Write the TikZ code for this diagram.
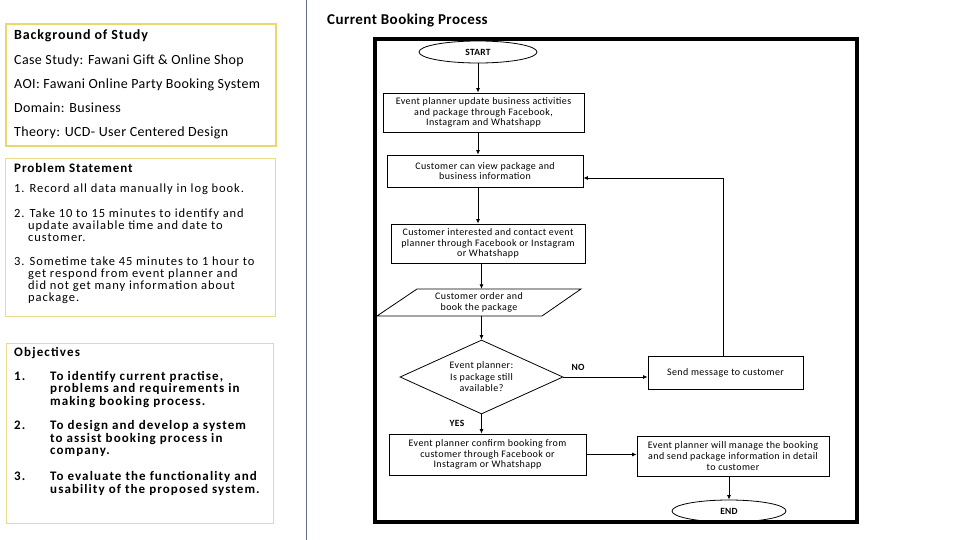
\documentclass[tikz,border=0pt]{standalone}
\usepackage{fontspec}
\setmainfont{Carlito}
\usetikzlibrary{shapes.geometric, arrows.meta}
\definecolor{ybord}{RGB}{236,214,110}
\definecolor{ythin}{RGB}{232,220,140}
\definecolor{divc}{RGB}{96,112,138}
\newcommand{\ls}[1]{\addfontfeature{LetterSpace=#1}}
\begin{document}
\begin{tikzpicture}[x=1pt,y=-1pt,
  hd/.style={anchor=base west, inner sep=0, font=\fontsize{14}{16}\selectfont\bfseries\ls{6}},
  bt/.style={anchor=base west, inner sep=0, font=\fontsize{14}{16}\selectfont\ls{2.7}},
  ph/.style={anchor=base west, inner sep=0, font=\fontsize{13}{15}\selectfont\bfseries\ls{7}},
  pt/.style={anchor=base west, inner sep=0, font=\fontsize{12.5}{14}\selectfont\ls{7.5}},
  oh/.style={anchor=base west, inner sep=0, font=\fontsize{13}{15}\selectfont\bfseries\ls{9}},
  ot/.style={anchor=base west, inner sep=0, font=\fontsize{13}{15}\selectfont\bfseries\ls{8.4}},
  fbox/.style={draw=black, line width=0.8pt, align=center, inner sep=0, font=\fontsize{10}{10.8}\selectfont\ls{4}},
  term/.style={ellipse, draw=black, line width=0.8pt, inner sep=0, font=\fontsize{9.5}{10.5}\selectfont\bfseries\ls{3}},
  lab/.style={inner sep=0, font=\fontsize{9.5}{10.5}\selectfont\bfseries\ls{3}},
  arr/.style={-{Latex[length=4.5pt,width=4pt]}, line width=0.8pt}
]
\useasboundingbox[fill=white] (0,0) rectangle (960,540);

% divider
\draw[divc, line width=1.2pt] (306.5,0) -- (306.5,540);

% Background of Study
\draw[ybord, line width=2.5pt] (6,24) rectangle (276,146);
\node[hd] (bgh) at (14,40) {Background of Study};
\node[bt] (bg1) at (14,64.5) {Case Study: Fawani Gift \& Online Shop};
\node[bt] (bg2) at (14,89) {AOI: Fawani Online Party Booking System};
\node[bt] (bg3) at (14,112.5) {Domain: Business};
\node[bt] (bg4) at (14,137) {Theory: UCD- User Centered Design};

% Problem Statement
\draw[ythin, line width=1pt] (5,159) rectangle (275,316);
\node[ph] (psh) at (14,172) {Problem Statement};
\node[pt] (ps1) at (14,192) {1. Record all data manually in log book.};
\node[pt] (ps2) at (14,217) {2. Take 10 to 15 minutes to identify and};
\node[pt] (ps2b) at (28,229) {update available time and date to};
\node[pt] (ps2c) at (28,241) {customer.};
\node[pt] (ps3) at (14,265) {3. Sometime take 45 minutes to 1 hour to};
\node[pt] (ps3b) at (28,277.5) {get respond from event planner and};
\node[pt] (ps3c) at (28,289.5) {did not get many information about};
\node[pt] (ps3d) at (28,301.5) {package.};

% Objectives
\draw[ythin, line width=1pt] (6,343) rectangle (273,523);
\node[oh] (obh) at (14,356) {Objectives};
\node[ot] (o1n) at (14,380) {1.};
\node[ot] (o1a) at (50,380) {To identify current practise,};
\node[ot] (o1b) at (50,392.5) {problems and requirements in};
\node[ot] (o1c) at (50,405) {making booking process.};
\node[ot] (o2n) at (14,429.5) {2.};
\node[ot] (o2a) at (50,429.5) {To design and develop a system};
\node[ot] (o2b) at (50,442) {to assist booking process in};
\node[ot] (o2c) at (50,454.5) {company.};
\node[ot] (o3n) at (14,480) {3.};
\node[ot] (o3a) at (50,480) {To evaluate the functionality and};
\node[ot] (o3b) at (50,493) {usability of the proposed system.};

% Title
\node[anchor=base west, inner sep=0, font=\fontsize{15}{17}\selectfont\bfseries\ls{3}] (title) at (327,25) {Current Booking Process};

% Flowchart
\node[term, minimum width=118pt, minimum height=22pt] (start) at (478,52) {START};
\node[fbox, minimum width=201pt, minimum height=39pt] (b1) at (483.5,112.5) {Event planner update business activities\\and package through Facebook,\\Instagram and Whatshapp};
\node[fbox, minimum width=196pt, minimum height=32pt] (b2) at (485,171) {Customer can view package and\\business information};
\node[fbox, minimum width=194pt, minimum height=39pt] (b3) at (488,243.5) {Customer interested and contact event\\planner through Facebook or Instagram\\or Whatshapp};
\draw[line width=0.8pt] (417,289) -- (581,289) -- (542,316) -- (377,316) -- cycle;
\node[align=center, inner sep=0, minimum height=27pt, font=\fontsize{10}{11}\selectfont\ls{4}] (ord) at (479,302.5) {Customer order and\\book the package};
\node[diamond, draw=black, line width=0.8pt, aspect=2.2, minimum width=163pt, minimum height=74pt, inner sep=0, align=center, font=\fontsize{10}{11.5}\selectfont\ls{4}] (dia) at (481.5,377) {Event planner:\\Is package still\\available?};
\node[fbox, minimum width=155pt, minimum height=33pt] (send) at (725.5,372.5) {Send message to customer};
\node[fbox, minimum width=197pt, minimum height=41pt] (conf) at (487.5,454.5) {Event planner confirm booking from\\customer through Facebook or\\Instagram or Whatshapp};
\node[fbox, minimum width=192pt, minimum height=40pt] (man) at (733,456) {Event planner will manage the booking\\and send package information in detail\\to customer};
\node[term, minimum width=114pt, minimum height=22pt] (end) at (729,511) {END};
\node[lab] (no) at (578,367) {NO};
\node[lab] (yes) at (457,423) {YES};

\draw[arr] (start.south) -- (start.south |- b1.north);
\draw[arr] (b1.south -| start.south) -- (b2.north -| start.south);
\draw[arr] (b2.south -| start.south) -- (b3.north -| start.south);
\draw[arr] (b3.south -| dia.north) -- (ord.north -| dia.north);
\draw[arr] (ord.south -| dia.north) -- (dia.north);
\draw[arr] (dia.south) -- (dia.south |- conf.north);
\draw[arr] (dia.east) -- (dia.east -| send.west);
\draw[arr] ([xshift=-2.5pt]send.north) |- ([yshift=-7pt]b2.east);
\draw[arr] (conf.east) -- (conf.east -| man.west);
\draw[arr] (man.south -| end.north) -- (end.north);

% frame
\draw[line width=4.3pt] (375,39) rectangle (857,522);
\end{tikzpicture}
\end{document}
